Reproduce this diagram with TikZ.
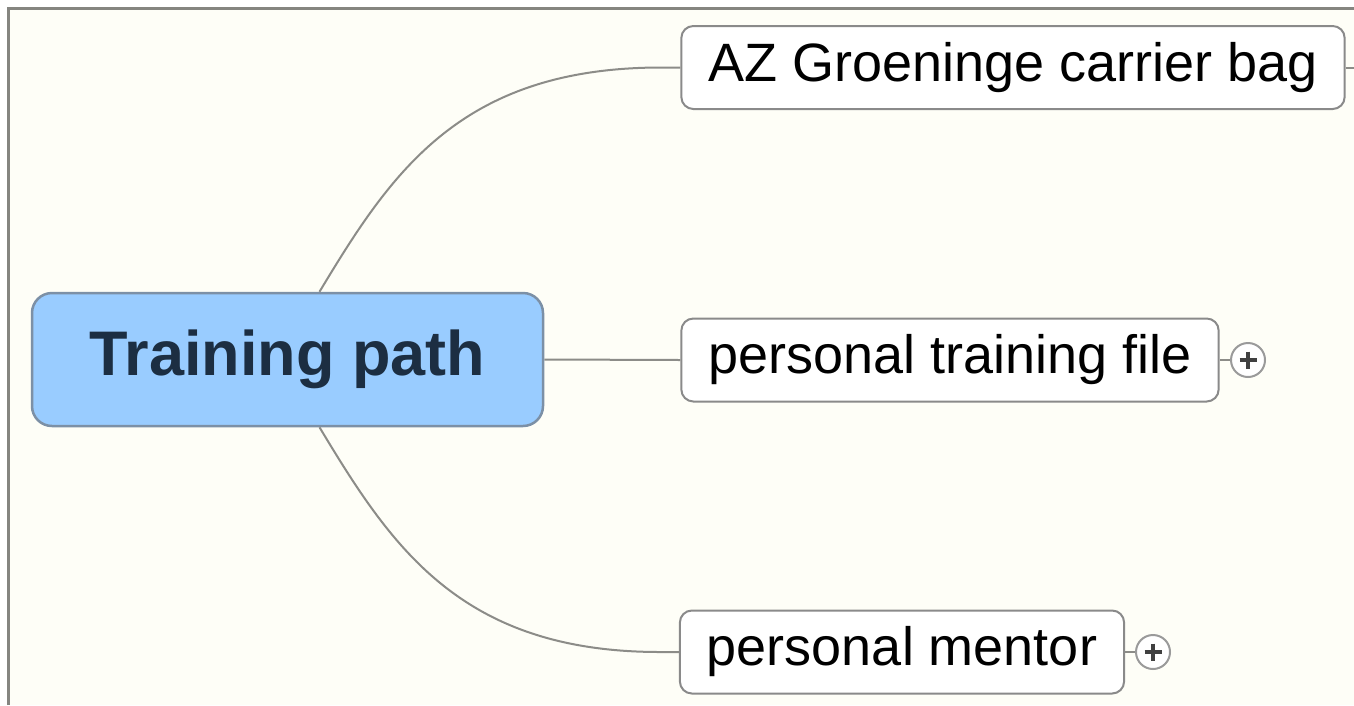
\documentclass[tikz,border=0pt]{standalone}
\usepackage{fontspec}
\setmainfont{Liberation Sans}
\usetikzlibrary{calc}
\definecolor{bgcream}{HTML}{FEFEF7}
\definecolor{framegray}{HTML}{858580}
\definecolor{linegray}{HTML}{8C8C88}
\definecolor{boxgray}{HTML}{8A8A8A}
\definecolor{expgray}{HTML}{9A9A9A}
\definecolor{centralfill}{HTML}{99CCFF}
\definecolor{centralborder}{HTML}{7C90A6}
\definecolor{centraltext}{HTML}{1C2E42}
\tikzset{
  central/.style={draw=centralborder, line width=2.5pt, fill=centralfill, rounded corners=20pt,
    minimum width=511pt, minimum height=133pt, inner sep=0pt,
    text=centraltext, font=\fontsize{63}{72}\selectfont\bfseries},
  topic/.style={draw=boxgray, line width=2pt, fill=white, rounded corners=12pt,
    minimum height=83pt, inner xsep=27pt, inner ysep=0pt,
    text=black, font=\fontsize{54}{60}\selectfont},
  conn/.style={draw=linegray, line width=2pt},
  expander/.style={circle, draw=expgray, line width=2pt, fill=white, minimum size=34pt, inner sep=0pt},
}
\begin{document}
\begin{tikzpicture}[x=1pt,y=-1pt]
\useasboundingbox (0,0) rectangle (1354,705);
\fill[white] (0,0) rectangle (1354,705);
\fill[bgcream] (8,8) rectangle (1354,705);
\draw[framegray, line width=3pt] (8,705) -- (8,8) -- (1354,8);

\node[central] (c) at (287.5,359.5) {Training path};
\node[topic] (n1) at (1013,67.5) {AZ Groeninge carrier bag};
\node[topic] (n2) at (950,360) {personal training file};
\node[topic] (n3) at (902,652) {personal mentor};

\node[expander] (e2) at (1248,360) {};
\node[expander] (e3) at (1153,652) {};
\foreach \e in {e2,e3}{
  \draw[line width=4.5pt, black!75] ($(\e.center)+(-8.5,0)$) -- ($(\e.center)+(8.5,0)$);
  \draw[line width=4.5pt, black!75] ($(\e.center)+(0,-8.5)$) -- ($(\e.center)+(0,8.5)$);
}
\coordinate (s1) at (1354,67.5);

\coordinate (ct) at ($(c.north)+(32,0)$);
\coordinate (cb) at ($(c.south)+(32,0)$);
\coordinate (k1) at ($(n1.west)+(-19,0)$);
\coordinate (k3) at ($(n3.west)+(-19,0)$);

\draw[conn] (ct) .. controls (391,173) and (460,67.5) .. (k1) -- (n1.west);
\draw[conn] (cb) .. controls (391,546) and (460,652) .. (k3) -- (n3.west);
\draw[conn] (c.east) -- (n2.west);
\draw[conn] (n2.east) -- (e2.west);
\draw[conn] (n3.east) -- (e3.west);
\draw[conn] (n1.east) -- (s1);
\end{tikzpicture}
\end{document}
